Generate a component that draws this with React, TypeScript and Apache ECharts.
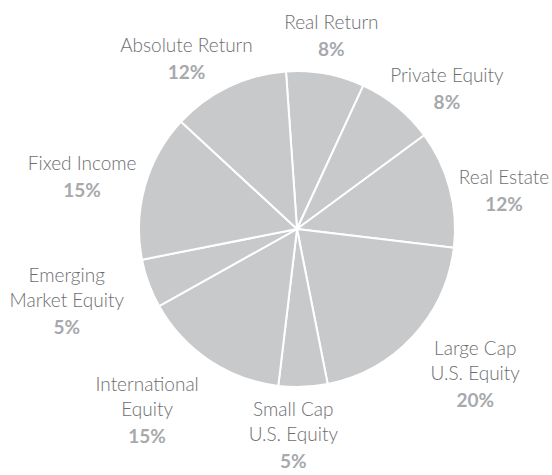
import React, { useEffect, useRef } from "react";
import * as echarts from "echarts";

const categories = [
  "Real Return",
  "Private Equity",
  "Real Estate",
  "Large Cap\nU.S. Equity",
  "Small Cap\nU.S. Equity",
  "International\nEquity",
  "Emerging\nMarket Equity",
  "Fixed Income",
  "Absolute Return",
];
const values = [8, 8, 12, 20, 5, 15, 5, 15, 12];

// label placement fine-tuning (pixels), kept separate from the data
const labelNudge: [number, number][] = [
  [-5, -2],
  [6, 10],
  [-2, 12],
  [20, 5],
  [-12, 0],
  [-26, 10],
  [-16, 1],
  [2, 1],
  [-8, 5],
];

const CX = 297;
const CY = 229;
const R = 158;
const START = 94;
const GAP = 13;

export default function App() {
  const ref = useRef<HTMLDivElement>(null);
  useEffect(() => {
    document.body.style.margin = "0";
    if (!ref.current) return;
    const chart = echarts.init(ref.current, undefined, { renderer: "svg" });
    const total = values.reduce((a, b) => a + b, 0);
    const mids: number[] = [];
    let cum = 0;
    values.forEach((v) => {
      mids.push(((START - ((cum + v / 2) / total) * 360) * Math.PI) / 180);
      cum += v;
    });
    chart.setOption({
      animation: false,
      backgroundColor: "#ffffff",
      series: [
        {
          type: "pie",
          center: [CX, CY],
          radius: [0, R],
          startAngle: START,
          clockwise: true,
          avoidLabelOverlap: false,
          itemStyle: { color: "#c8c9cb", borderColor: "#ffffff", borderWidth: 2 },
          emphasis: { disabled: true },
          labelLine: { show: false },
          label: {
            show: true,
            position: "outside",
            align: "center",
            formatter: (p: any) => {
              const lines = String(p.name).split("\n").map((l: string) => `{n|${l}}`);
              return lines.join("\n") + `\n{p|${p.value}%}`;
            },
            rich: {
              n: {
                fontFamily: "Lato",
                fontWeight: 300,
                fontSize: 19,
                color: "#6d6e71",
                lineHeight: 25,
                align: "center",
              },
              p: {
                fontFamily: "Lato",
                fontWeight: "bold",
                fontSize: 19,
                color: "#a7a9ac",
                lineHeight: 29,
                align: "center",
              },
            },
          },
          labelLayout: (params: any) => {
            const i = params.dataIndex;
            const a = mids[i];
            const c = Math.cos(a);
            const s = Math.sin(a);
            const w = params.labelRect.width;
            const h = params.labelRect.height;
            return {
              x: CX + (R + GAP) * c + (w / 2) * c + labelNudge[i][0],
              y: CY - (R + GAP) * s - (h / 2) * s + labelNudge[i][1],
              align: "center",
              verticalAlign: "middle",
            };
          },
          data: categories.map((name, i) => ({ name, value: values[i] })),
        },
      ],
    });
    return () => chart.dispose();
  }, []);
  return <div ref={ref} style={{ width: 552, height: 475 }} />;
}
